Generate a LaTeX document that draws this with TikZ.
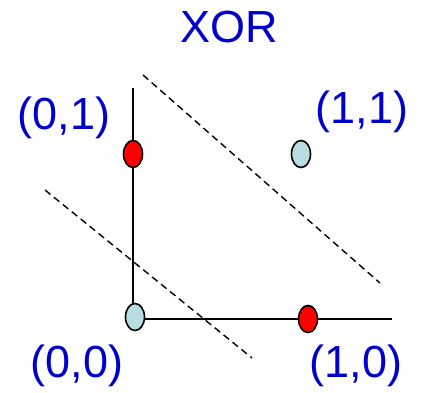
\documentclass[tikz,border=0pt]{standalone}
\usepackage{fontspec}
\setmainfont{Liberation Sans}
\usepackage{tikz}
\usetikzlibrary{shapes.geometric}
\definecolor{Lab}{RGB}{0,0,204}
\definecolor{Zero}{RGB}{183,221,224}
\definecolor{One}{RGB}{255,0,0}
\tikzset{
  xlab/.style={text=Lab,font=\fontsize{45}{54}\selectfont,inner sep=0pt},
  xpt/.style={ellipse,draw=black,line width=1.6pt,minimum width=19pt,minimum height=27pt,inner sep=0pt},
  xzero/.style={xpt,fill=Zero},
  xone/.style={xpt,fill=One},
  xaxis/.style={line width=1.2pt,draw=black},
  xsep/.style={dash pattern=on 7pt off 4.5pt,line width=1.4pt}
}
\begin{document}
\begin{tikzpicture}[x=1pt,y=-1pt]
\useasboundingbox (0,0) rectangle (421,393);
\coordinate (ytop) at (133,88);
\coordinate (xend) at (392,319);
\coordinate (s1a) at (143,75);
\coordinate (s1b) at (380,283);
\coordinate (s2a) at (45,190);
\coordinate (s2b) at (252,358);
\draw[xaxis] (ytop) -- (133,319) -- (xend);
\draw[xsep] (s1a) -- (s1b);
\draw[xsep] (s2a) -- (s2b);
\node[xzero] (p00) at (135,317) {};
\node[xone] (p01) at (133,154) {};
\node[xzero] (p11) at (301,154) {};
\node[xone] (p10) at (308,319) {};
\node[xlab] (title) at (229,27) {XOR};
\node[xlab] (l01) at (64,118) {(0,1)};
\node[xlab] (l11) at (362,112) {(1,1)};
\node[xlab] (l00) at (77,366) {(0,0)};
\node[xlab] (l10) at (356,366) {(1,0)};
\end{tikzpicture}
\end{document}
